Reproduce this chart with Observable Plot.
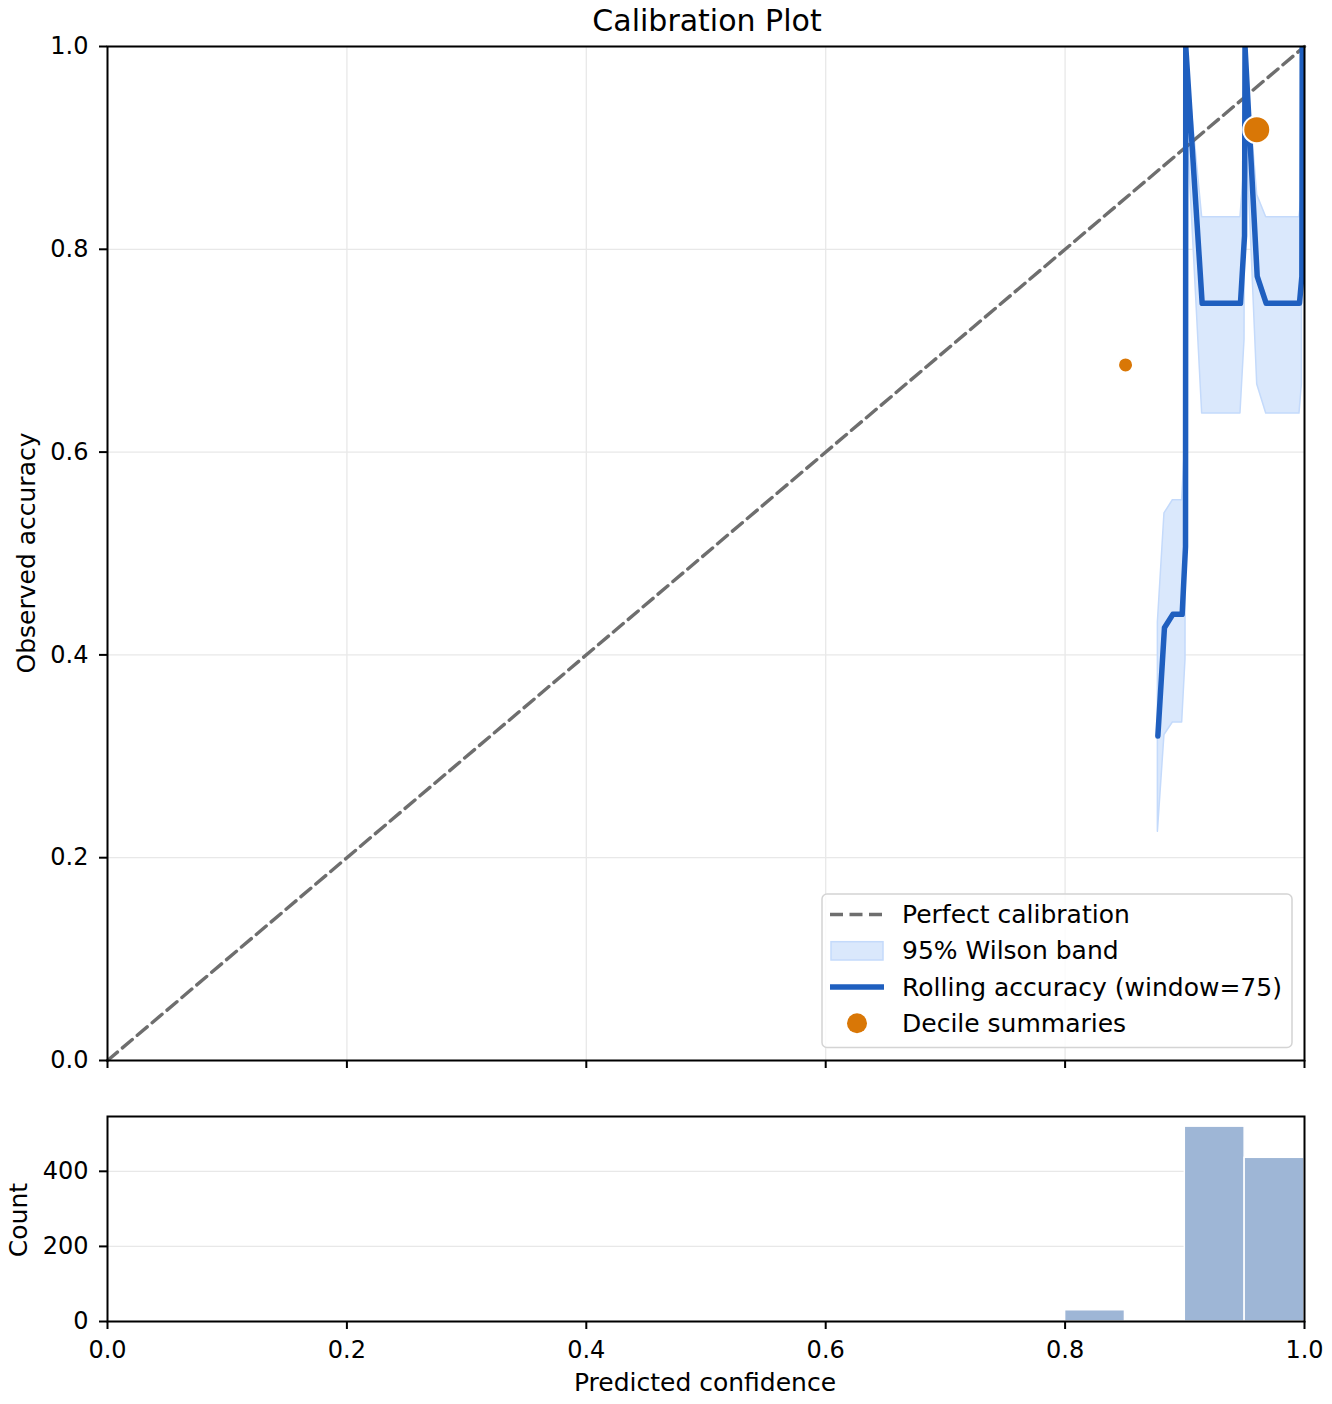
<!DOCTYPE html>
<html>
<head>
<meta charset="utf-8">
<script src="https://cdn.jsdelivr.net/npm/d3@7"></script>
<script src="https://cdn.jsdelivr.net/npm/@observablehq/plot@0.6"></script>
<style>
  body { margin: 0; background: #fff; font-family: "DejaVu Sans", sans-serif; }
  #wrap { position: relative; width: 1332px; height: 1404px; overflow: hidden; }
  .abs { position: absolute; white-space: nowrap; line-height: 1; color: #000; font-family: "DejaVu Sans", sans-serif; }
  .layer { position: absolute; left: 0; }
</style>
</head>
<body>
<div id="wrap"></div>
<script>
// ---------- data ----------
const xTicks = [0, 0.2, 0.4, 0.6, 0.8, 1.0];
const yTicks = [0, 0.2, 0.4, 0.6, 0.8, 1.0];
const histYTicks = [0, 200, 400];

const diagX = [0, 1];
const diagY = [0, 1];

// rolling accuracy (window = 75), x = rolling mean confidence
const rollX   = [0.8775, 0.8830, 0.8900, 0.8978, 0.9006, 0.9008, 0.9145, 0.9465, 0.9499, 0.9503, 0.9605, 0.9680, 0.9958, 0.9978, 0.9981];
const rollAcc = [0.3200, 0.4267, 0.4400, 0.4400, 0.5067, 1.0000, 0.7467, 0.7467, 0.8133, 1.0000, 0.7733, 0.7467, 0.7467, 0.7733, 1.0000];
// 95% Wilson band
const bandLo  = [0.2255, 0.3210, 0.3333, 0.3333, 0.3960, 0.9510, 0.6380, 0.6380, 0.7110, 0.9510, 0.6666, 0.6380, 0.6380, 0.6666, 0.9510];
const bandHi  = [0.4320, 0.5395, 0.5525, 0.5525, 0.6170, 1.0000, 0.8316, 0.8316, 0.8850, 1.0000, 0.8534, 0.8316, 0.8316, 0.8534, 1.0000];

// decile summaries
const decX   = [0.8505, 0.9601];
const decAcc = [0.686, 0.918];
const decN   = [30, 955];

// histogram of predicted confidence
const binStart = [0.80, 0.90, 0.95];
const binEnd   = [0.85, 0.95, 1.00];
const binCount = [30, 519, 436];

// ---------- tables ----------
const diag = diagX.map((x, i) => ({x, y: diagY[i]}));
const roll = rollX.map((x, i) => ({x, y: rollAcc[i], lo: bandLo[i], hi: bandHi[i]}));
const dec = decX.map((x, i) => ({x, y: decAcc[i], n: decN[i]}));
const bins = binStart.map((x1, i) => ({x1, x2: binEnd[i], n: binCount[i]}));

const GRID = "#e8e8e8";
const BLUE = "#1f5fbf";
const ORANGE = "#d97706";
const DASH = "#6e6e6e";

const wrap = document.getElementById("wrap");

const main = Plot.plot({
  width: 1332, height: 1075,
  marginTop: 46, marginBottom: 15, marginLeft: 107, marginRight: 28,
  x: {domain: [0, 1]},
  y: {domain: [0, 1]},
  r: {type: "linear", domain: [30, 955], range: [7.5, 13.5]},
  style: {fontFamily: "DejaVu Sans", fontSize: "24px", color: "black", background: "transparent", overflow: "visible"},
  marks: [
    Plot.gridX(xTicks, {stroke: GRID, strokeOpacity: 1, strokeWidth: 1.3}),
    Plot.gridY(yTicks, {stroke: GRID, strokeOpacity: 1, strokeWidth: 1.3}),
    Plot.areaY(roll, {x: "x", y1: "lo", y2: "hi", fill: "#dae8fc", stroke: "#c4dafb", strokeWidth: 1.5, clip: true}),
    Plot.line(diag, {x: "x", y: "y", stroke: DASH, strokeWidth: 3.4, strokeDasharray: "13,6.5"}),
    Plot.line(roll, {x: "x", y: "y", stroke: BLUE, strokeWidth: 5.5, strokeLinejoin: "round", clip: true}),
    Plot.dot(dec, {x: "x", y: "y", r: "n", fill: ORANGE, stroke: "white", strokeWidth: 2}),
    Plot.frame({stroke: "black", strokeWidth: 2}),
    Plot.axisY(yTicks, {tickFormat: d3.format(".1f"), tickSize: 8, tickPadding: 11, strokeWidth: 2, label: null}),
    Plot.axisX(xTicks, {tickFormat: () => "", tickSize: 8, strokeWidth: 2, label: null})
  ]
});

const hist = Plot.plot({
  width: 1332, height: 324,
  marginTop: 36, marginBottom: 83, marginLeft: 107, marginRight: 28,
  x: {domain: [0, 1]},
  y: {domain: [0, 546]},
  style: {fontFamily: "DejaVu Sans", fontSize: "24px", color: "black", background: "transparent", overflow: "visible"},
  marks: [
    Plot.gridY(histYTicks, {stroke: GRID, strokeOpacity: 1, strokeWidth: 1.3}),
    Plot.rectY(bins, {x1: "x1", x2: "x2", y: "n", fill: "#9eb6d6", stroke: "white", strokeWidth: 1.5, inset: 0}),
    Plot.frame({stroke: "black", strokeWidth: 2}),
    Plot.axisY(histYTicks, {tickSize: 8, tickPadding: 11, strokeWidth: 2, label: null}),
    Plot.axisX(xTicks, {tickFormat: d3.format(".1f"), tickSize: 8, tickPadding: 11, strokeWidth: 2, label: null})
  ]
});

function layer(node, top) {
  const d = document.createElement("div");
  d.className = "layer";
  d.style.top = top + "px";
  d.appendChild(node);
  wrap.appendChild(d);
}
layer(main, 0);
layer(hist, 1080);

function text(str, x, y, size, rotate) {
  const d = document.createElement("div");
  d.className = "abs";
  d.textContent = str;
  d.style.left = x + "px";
  d.style.top = y + "px";
  d.style.fontSize = size + "px";
  d.style.transform = "translate(-50%, -50%)" + (rotate ? " rotate(-90deg)" : "");
  wrap.appendChild(d);
}
text("Calibration Plot", 707, 21, 30);
text("Observed accuracy", 26, 553, 25, true);
text("Count", 18, 1220, 25, true);
text("Predicted confidence", 705, 1382, 25);

// legend
const ns = "http://www.w3.org/2000/svg";
const lg = document.createElementNS(ns, "svg");
lg.setAttribute("width", 474);
lg.setAttribute("height", 158);
lg.style.position = "absolute";
lg.style.left = "820px";
lg.style.top = "892px";
lg.innerHTML = `
  <rect x="2" y="2" width="470" height="153.5" rx="5" ry="5" fill="white" fill-opacity="0.8" stroke="#d4d4d4" stroke-width="1.5"/>
  <line x1="10" x2="64" y1="22.5" y2="22.5" stroke="${DASH}" stroke-width="3.4" stroke-dasharray="13,6.5"/>
  <rect x="11" y="49.7" width="52" height="18.3" fill="#dae8fc" stroke="#c4dafb" stroke-width="1.5"/>
  <line x1="10" x2="64" y1="95" y2="95" stroke="${BLUE}" stroke-width="5.5"/>
  <circle cx="37" cy="131.3" r="10" fill="${ORANGE}"/>
  <g font-family="DejaVu Sans" font-size="25" fill="black" dominant-baseline="central">
    <text x="82" y="22.5">Perfect calibration</text>
    <text x="82" y="58.8">95% Wilson band</text>
    <text x="82" y="95">Rolling accuracy (window=75)</text>
    <text x="82" y="131.3">Decile summaries</text>
  </g>`;
wrap.appendChild(lg);
</script>
</body>
</html>
